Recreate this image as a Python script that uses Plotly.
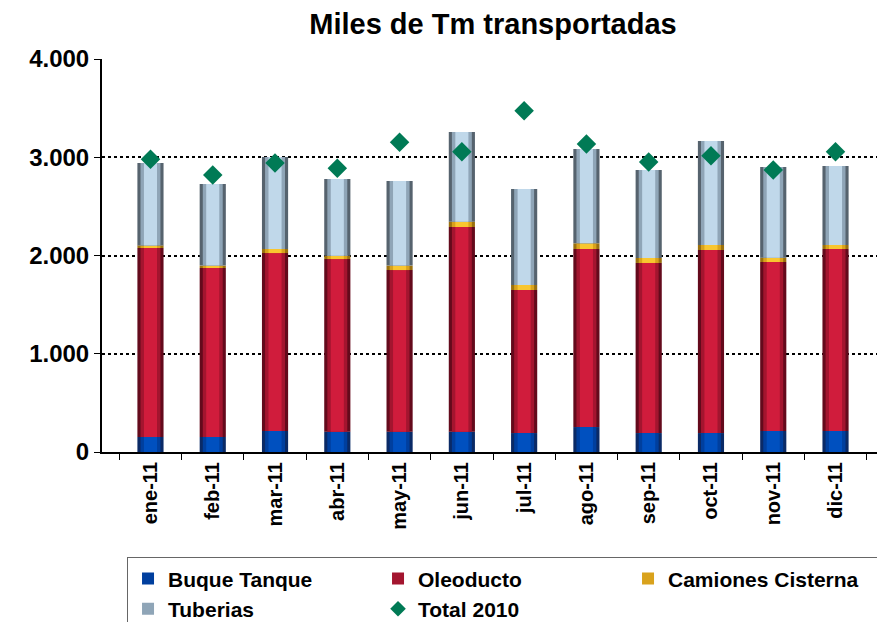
import plotly.graph_objects as go

MONTHS = ["ene-11", "feb-11", "mar-11", "abr-11", "may-11", "jun-11",
          "jul-11", "ago-11", "sep-11", "oct-11", "nov-11", "dic-11"]

BUQUE_TANQUE = [153, 153, 214, 207, 207, 207, 193, 254, 193, 193, 214, 214]
OLEODUCTO = [1923, 1720, 1811, 1757, 1645, 2083, 1456, 1812, 1731, 1863, 1720, 1852]
CAMIONES = [27, 24, 41, 34, 45, 54, 51, 58, 51, 51, 44, 41]
TUBERIAS = [838, 831, 937, 781, 861, 913, 977, 960, 895, 1058, 923, 804]
TOTAL_2010 = [2979, 2819, 2941, 2887, 3152, 3057, 3474, 3135, 2952, 3016, 2870, 3057]

FONT = "Liberation Sans, Arial, sans-serif"

# (name, values, [edge, mid, centre] shades) - bars are layered to fake the gradient
SERIES = [
    ("Buque Tanque", BUQUE_TANQUE, ["#0a2a66", "#003f9e", "#0050bf"]),
    ("Oleoducto", OLEODUCTO, ["#640a1c", "#a3152f", "#d01c3c"]),
    ("Camiones Cisterna", CAMIONES, ["#9a700e", "#d9a21c", "#f9c630"]),
    ("Tuberias", TUBERIAS, ["#56636e", "#8fa5b7", "#c0d8ea"]),
]
WIDTHS = [0.42, 0.32, 0.21]

fig = go.Figure()

base = [0] * len(MONTHS)
for rank, (name, values, shades) in enumerate(SERIES):
    for i, (w, col) in enumerate(zip(WIDTHS, shades)):
        fig.add_trace(go.Bar(
            x=MONTHS, y=values, base=base, width=w,
            name=name, legendgroup=name, legendrank=rank + 1,
            showlegend=(i == 1),
            marker=dict(color=col, line=dict(width=0)),
            hoverinfo="skip" if i else None,
        ))
    base = [b + v for b, v in zip(base, values)]

fig.add_trace(go.Scatter(
    x=MONTHS, y=TOTAL_2010, mode="markers", name="Total 2010", legendrank=5,
    marker=dict(symbol="diamond", size=15, color="#007a55"),
))

# page body keeps its default 8px margin, so the figure is drawn 8px in
fig.update_layout(
    width=877, height=614,
    barmode="overlay",
    separators=",.",
    paper_bgcolor="white", plot_bgcolor="white",
    margin=dict(l=94, r=1, t=51, b=170, autoexpand=False),
    font=dict(family=FONT, size=17, color="black", weight="bold"),
    title=dict(text="Miles de Tm transportadas", x=0.5, xref="paper", xanchor="center",
               y=1 - 16 / 614, yref="container", yanchor="middle",
               font=dict(size=29, family=FONT, weight="bold")),
    legend=dict(orientation="h", x=0.032, y=-0.268, xanchor="left", yanchor="top",
                entrywidth=205, entrywidthmode="pixels", traceorder="normal",
                bordercolor="#666666", borderwidth=1,
                font=dict(size=21, family=FONT, weight="bold"),
                itemsizing="constant", tracegroupgap=0),
    showlegend=True,
)

fig.update_xaxes(
    type="category", showline=True, linecolor="black", linewidth=2,
    ticks="outside", tickson="boundaries", ticklen=6, tickcolor="black",
    tickangle=-90, tickfont=dict(size=20, family=FONT, weight="bold"),
    showgrid=False,
)
fig.update_yaxes(
    range=[0, 4000], dtick=1000, tickformat=",d",
    showline=True, linecolor="black", linewidth=2,
    ticks="outside", ticklen=6, tickcolor="black",
    showgrid=True, gridcolor="black", gridwidth=2, griddash="dot",
    zeroline=False,
    tickfont=dict(size=24, family=FONT, weight="bold"),
)

fig.write_html("out.html")
